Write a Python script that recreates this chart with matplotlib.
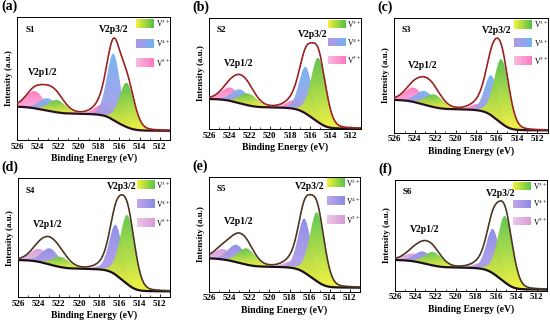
import numpy as np
import matplotlib
matplotlib.use("Agg")
import matplotlib.pyplot as plt
from matplotlib.colors import LinearSegmentedColormap

plt.rcParams["font.family"] = "Liberation Serif"
plt.rcParams["mathtext.fontset"] = "stix"

samples = ["S1", "S2", "S3", "S4", "S5", "S6"]
tags = ["(a)", "(b)", "(c)", "(d)", "(e)", "(f)"]

# V 2p3/2 components (centre eV, height above background, % of panel height)
v3_32_c = [515.25, 515.2, 515.5, 515.2, 515.25, 515.1]
v3_32_h = [36, 58, 56, 58, 60, 60]
v4_32_c = [516.55, 516.45, 516.5, 516.35, 516.5, 516.3]
v4_32_h = [54, 42, 35, 42, 47, 40]
v5_32_c = [517.5, 517.45, 517.6, 517.4, 517.65, 517.4]
v5_32_h = [9, 8, 6, 4, 6, 5]

# V 2p1/2 components
v3_12_c = [522.1, 522.1, 522.1, 521.8, 522.25, 522.2]
v3_12_h = [10, 10.6, 11, 8.5, 14, 12]
v4_12_c = [523.0, 522.9, 523.0, 522.85, 523.25, 523.2]
v4_12_h = [10, 12.5, 12, 13.5, 15, 10.5]
v5_12_c = [524.3, 523.9, 524.1, 523.9, 524.6, 524.2]
v5_12_h = [14, 12, 12.5, 11, 9, 7]

# FWHM (eV) per state: V3+, V4+, V5+ ; Gaussian-Lorentzian mix
fwhm_32 = [1.7, 1.55, 2.0]
fwhm_12 = [2.0, 2.0, 2.1]
gl_mix = 0.15

# Shirley background end points (high-BE side, low-BE side)
bg_high = [27, 27, 28.6, 31.3, 29, 27.7]
bg_low = [7.5, 0.3, 2, 5, 3.5, 1]

ticks = [526, 524, 522, 520, 518, 516, 514, 512]

positions = [
    [0.0318, 0.5706, 0.2773, 0.3773],
    [0.3800, 0.6043, 0.2764, 0.3405],
    [0.7169, 0.5930, 0.2789, 0.3509],
    [0.0333, 0.0880, 0.2758, 0.3650],
    [0.3800, 0.1052, 0.2745, 0.3528],
    [0.7182, 0.1083, 0.2758, 0.3396],
]

row1 = {"v3": ("#55c048", "#f4f23a"), "v4": ("#74b2f2", "#b496e2"),
        "v5": ("#ff78c4", "#f8bcdc"), "env": "#c0282a", "bg": "#2a0f20"}
row2 = {"v3": ("#5cc44a", "#f4f23a"), "v4": ("#8a8ae6", "#c2a8ea"),
        "v5": ("#d89ad8", "#ecc8e8"), "env": "#5e4228", "bg": "#1a1016"}


def peak(x, c, h, w):
    g = np.exp(-4 * np.log(2) * ((x - c) / w) ** 2)
    lor = 1 / (1 + 4 * ((x - c) / w) ** 2)
    return h * ((1 - gl_mix) * g + gl_mix * lor)


def grad_fill(ax, x, y0, y1, ctop, cbot, z):
    poly = ax.fill_between(x, y0, y1, facecolor="none", edgecolor="none")
    cmap = LinearSegmentedColormap.from_list("g", [cbot, ctop])
    mask = (y1 - y0) > 0.5
    img = ax.imshow(np.linspace(0, 1, 256).reshape(-1, 1), cmap=cmap,
                    aspect="auto", origin="lower", zorder=z, alpha=0.95,
                    extent=[x.min(), x.max(), y0[mask].min(), y1.max()])
    img.set_clip_path(poly.get_paths()[0], transform=ax.transData)


x = np.linspace(511, 526, 800)
fig = plt.figure(figsize=(5.5, 3.26), dpi=100)

for i in range(6):
    ax = fig.add_axes(positions[i])
    col = row1 if i < 3 else row2

    comps = {
        "v5": peak(x, v5_32_c[i], v5_32_h[i], fwhm_32[2]) + peak(x, v5_12_c[i], v5_12_h[i], fwhm_12[2]),
        "v4": peak(x, v4_32_c[i], v4_32_h[i], fwhm_32[1]) + peak(x, v4_12_c[i], v4_12_h[i], fwhm_12[1]),
        "v3": peak(x, v3_32_c[i], v3_32_h[i], fwhm_32[0]) + peak(x, v3_12_c[i], v3_12_h[i], fwhm_12[0]),
    }
    total = comps["v5"] + comps["v4"] + comps["v3"]
    cum = np.cumsum(total)
    bg = bg_low[i] + (bg_high[i] - bg_low[i]) * cum / cum[-1]

    for z, key in enumerate(["v5", "v4", "v3"]):
        # the two doublet halves get their own gradient
        for part in (x < 519.5, x >= 519.5):
            grad_fill(ax, x[part], bg[part], bg[part] + comps[key][part],
                      col[key][0], col[key][1], 2 + z)

    env = bg + total
    ax.plot(x, bg, color=col["bg"], lw=1.6, zorder=6)
    ax.plot(x, env, color=col["env"], lw=1.2, zorder=7)
    ax.plot(x, env, color="#222222", lw=0.7, ls=(0, (1, 1.6)), zorder=8)

    # peak labels
    m32 = x < 519.5
    j = np.argmax(env[m32])
    ax.text(x[m32][j], env[m32][j] + 3, "V2p3/2", ha="center", va="bottom",
            fontsize=7, fontweight="bold", zorder=9)
    m12 = x >= 519.5
    j = np.argmax(env[m12])
    ax.text(x[m12][j], env[m12][j] + 6, "V2p1/2", ha="center", va="bottom",
            fontsize=7, fontweight="bold", zorder=9)

    ax.text(0.05, 0.93, samples[i], transform=ax.transAxes, ha="left", va="top",
            fontsize=6.5, fontweight="bold")

    # legend boxes
    labels = [r"V$^{3+}$", r"V$^{4+}$", r"V$^{5+}$"]
    for k, key in enumerate(["v3", "v4", "v5"]):
        fy = 0.945 - k * 0.16
        x0 = 526 - 0.78 * 15
        x1 = 526 - 0.895 * 15
        cmap = LinearSegmentedColormap.from_list("l", [col[key][1], col[key][0]])
        ax.imshow(np.linspace(0, 1, 64).reshape(1, -1), cmap=cmap, aspect="auto",
                  extent=[x0, x1, (fy - 0.035) * 100, (fy + 0.035) * 100], zorder=9)
        ax.text(526 - 0.91 * 15, fy * 100, labels[k], ha="left", va="center",
                fontsize=5.5, zorder=9)

    ax.set_xlim(526, 511)
    ax.set_ylim(0, 100)
    ax.set_xticks(ticks)
    ax.set_xticks(np.arange(511, 527, 1), minor=True)
    ax.set_yticks([])
    ax.tick_params(axis="x", direction="in", length=2.5, width=0.6, labelsize=6.5, pad=2)
    ax.tick_params(axis="x", which="minor", direction="in", length=1.5, width=0.5)
    for lab in ax.get_xticklabels():
        lab.set_fontweight("bold")
    for s in ax.spines.values():
        s.set_linewidth(0.7)
    ax.set_xlabel("Binding Energy (eV)", fontsize=7, fontweight="bold", labelpad=2)
    ax.set_ylabel("Intensity (a.u.)", fontsize=6.5, fontweight="bold", labelpad=3)

    fig.text(positions[i][0] - 0.03, positions[i][1] + positions[i][3] + 0.012,
             tags[i], fontsize=10, fontweight="bold", ha="left", va="bottom")

fig.savefig("out.png", dpi=100)
